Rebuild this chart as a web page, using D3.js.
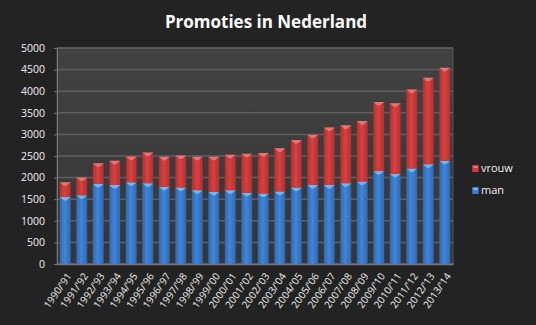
<!DOCTYPE html>
<html>
<head>
<meta charset="utf-8">
<script src="https://cdn.jsdelivr.net/npm/d3@7"></script>
<style>
  html, body { margin: 0; padding: 0; background: #232323; }
  svg { display: block; }
</style>
</head>
<body>
<svg id="chart" width="536" height="325"></svg>
<script>
// Academic years
const categories = [
  "1990/'91", "1991/'92", "1992/'93", "1993/'94", "1994/'95", "1995/'96",
  "1996/'97", "1997/'98", "1998/'99", "1999/'00", "2000/'01", "2001/'02",
  "2002/'03", "2003/'04", "2004/'05", "2005/'06", "2006/'07", "2007/'08",
  "2008/'09", "2009/'10", "2010/'11", "2011/'12", "2012/'13", "2013/'14"
];
// Doctorates awarded to men
const man = [
  1550, 1590, 1860, 1830, 1890, 1870, 1790, 1770, 1710, 1670, 1710, 1650,
  1630, 1680, 1770, 1830, 1830, 1870, 1910, 2150, 2090, 2210, 2310, 2390
];
// Doctorates awarded to women
const vrouw = [
  340, 410, 470, 560, 600, 710, 690, 740, 770, 810, 820, 900,
  940, 1000, 1100, 1160, 1330, 1340, 1400, 1600, 1630, 1830, 2000, 2150
];
const yTicks = [0, 500, 1000, 1500, 2000, 2500, 3000, 3500, 4000, 4500, 5000];
const seriesNames = ["man", "vrouw"];

const svg = d3.select("#chart");
const W = 536, H = 325;
const plot = { left: 57, right: 453, top: 48, bottom: 264 };

const defs = svg.append("defs");
function hGrad(id, edge, mid) {
  const g = defs.append("linearGradient").attr("id", id)
    .attr("x1", "0").attr("x2", "1").attr("y1", "0").attr("y2", "0");
  g.append("stop").attr("offset", "0%").attr("stop-color", edge);
  g.append("stop").attr("offset", "45%").attr("stop-color", mid);
  g.append("stop").attr("offset", "100%").attr("stop-color", edge);
}
hGrad("gMan", "#2d69b4", "#3f86da");
hGrad("gVrouw", "#b52e30", "#d8413f");
const pg = defs.append("linearGradient").attr("id", "gPlot")
  .attr("x1", "0").attr("x2", "0").attr("y1", "0").attr("y2", "1");
pg.append("stop").attr("offset", "0%").attr("stop-color", "#424242");
pg.append("stop").attr("offset", "100%").attr("stop-color", "#363636");

svg.append("rect").attr("width", W).attr("height", H).attr("fill", "#232323");

const x = d3.scaleBand().domain(categories)
  .range([plot.left, plot.right]).paddingInner(0.34).paddingOuter(0.17);
const y = d3.scaleLinear().domain([0, 5000]).range([plot.bottom, plot.top]);

// plot area
svg.append("rect")
  .attr("x", plot.left).attr("y", plot.top)
  .attr("width", plot.right - plot.left).attr("height", plot.bottom - plot.top)
  .attr("fill", "url(#gPlot)").attr("stroke", "#555").attr("stroke-width", 1);

// gridlines
svg.append("g").selectAll("line").data(yTicks).join("line")
  .attr("x1", plot.left).attr("x2", plot.right)
  .attr("y1", d => y(d)).attr("y2", d => y(d))
  .attr("stroke", "#5f5f5f").attr("stroke-width", 1.5);

// y axis
const yAxis = svg.append("g")
  .attr("transform", `translate(${plot.left},0)`)
  .call(d3.axisLeft(y).tickValues(yTicks).tickFormat(d3.format("d")).tickSize(3).tickPadding(9));
yAxis.select(".domain").attr("stroke", "#777");
yAxis.selectAll(".tick line").attr("stroke", "#777");
yAxis.selectAll("text").attr("fill", "#f0f0f0")
  .style("font-family", "'Open Sans', sans-serif").style("font-size", "10.5px");

// x axis
const xAxis = svg.append("g")
  .attr("transform", `translate(0,${plot.bottom})`)
  .call(d3.axisBottom(x).tickSize(0).tickPadding(0));
xAxis.select(".domain").attr("stroke", "#777").attr("stroke-width", 1.5);
xAxis.selectAll("text")
  .attr("fill", "#f0f0f0")
  .style("font-family", "'Open Sans', sans-serif").style("font-size", "10px")
  .attr("text-anchor", "end")
  .attr("dy", "0.35em")
  .attr("transform", "translate(4,10) rotate(-55)");

// stacked bars
const rows = categories.map((c, i) => ({ cat: c, man: man[i], vrouw: vrouw[i] }));
const stack = d3.stack().keys(seriesNames)(rows);
const fills = { man: "url(#gMan)", vrouw: "url(#gVrouw)" };
const caps = { man: "#7cc0f5", vrouw: "#ef7b78" };

stack.forEach(layer => {
  const g = svg.append("g");
  g.selectAll("rect").data(layer).join("rect")
    .attr("x", d => x(d.data.cat))
    .attr("width", x.bandwidth())
    .attr("y", d => y(d[1]))
    .attr("height", d => y(d[0]) - y(d[1]))
    .attr("fill", fills[layer.key]);
  // bevelled top cap
  g.selectAll("path").data(layer).join("path")
    .attr("d", d => {
      const x0 = x(d.data.cat), w = x.bandwidth(), yt = y(d[1]);
      return `M${x0},${yt} L${x0 + w},${yt} L${x0 + w * 0.62},${yt + 3.5} L${x0 + w * 0.38},${yt + 3.5} Z`;
    })
    .attr("fill", caps[layer.key]).attr("opacity", 0.85);
});

// title
svg.append("text")
  .attr("x", 266).attr("y", 28).attr("text-anchor", "middle")
  .attr("fill", "#ffffff")
  .style("font-family", "'Open Sans', sans-serif").style("font-weight", "bold")
  .style("font-size", "17px")
  .text("Promoties in Nederland");

// legend
const legend = svg.append("g");
const legendItems = [
  { key: "vrouw", y: 165 },
  { key: "man", y: 187 }
];
legendItems.forEach(it => {
  legend.append("rect").attr("x", 472).attr("y", it.y)
    .attr("width", 7).attr("height", 7).attr("fill", fills[it.key]);
  legend.append("rect").attr("x", 473.5).attr("y", it.y + 1)
    .attr("width", 4).attr("height", 2).attr("fill", caps[it.key]);
  legend.append("text").attr("x", 481).attr("y", it.y + 7)
    .attr("fill", "#f0f0f0")
    .style("font-family", "'Open Sans', sans-serif").style("font-size", "11px")
    .text(it.key);
});
</script>
</body>
</html>
